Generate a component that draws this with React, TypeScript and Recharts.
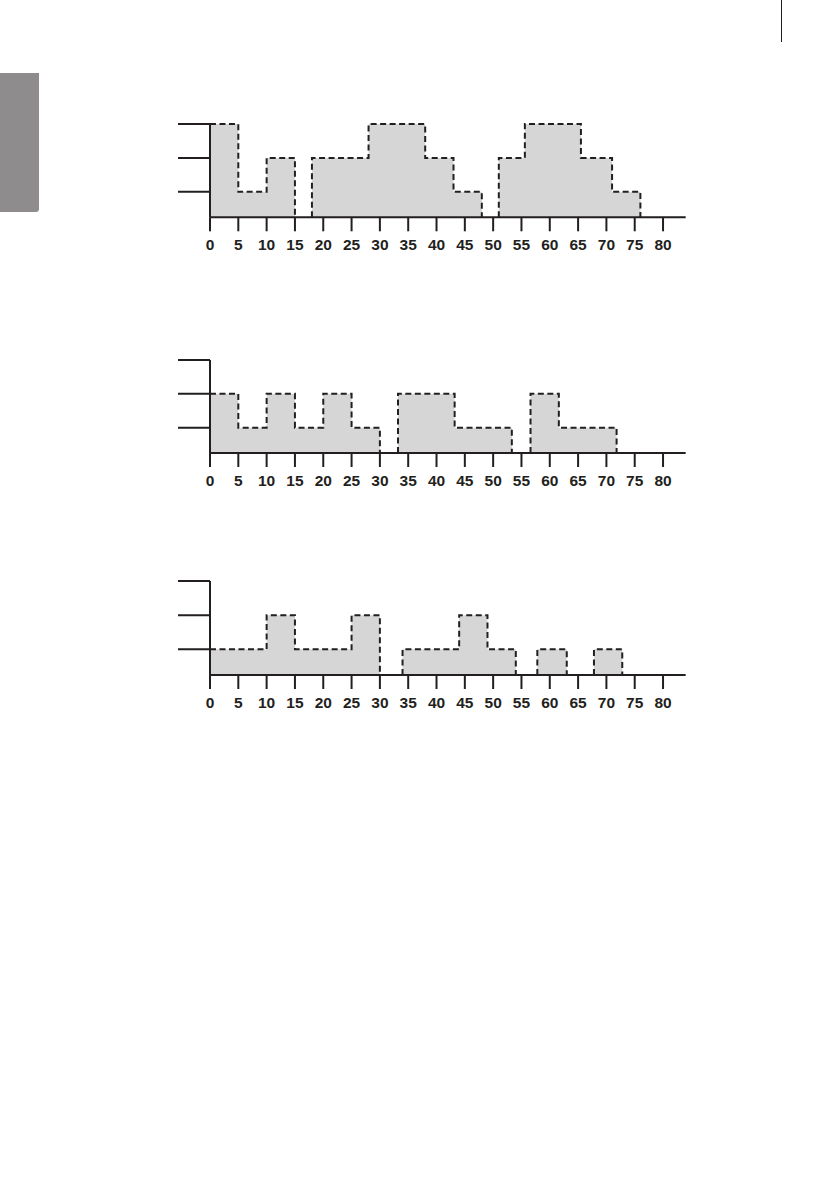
import React from 'react';
import { AreaChart, Area, XAxis, YAxis } from 'recharts';

const INK = '#231f20';
const FILL = '#d6d6d6';

// x axis ticks (every 5 up to 80)
const X_TICKS = [0, 5, 10, 15, 20, 25, 30, 35, 40, 45, 50, 55, 60, 65, 70, 75, 80];
const LEVEL_TICKS = [1, 2, 3];
const FLOOR = 0.25; // value the x axis sits on
const TOP = 3;
const X_MAX = 84;

// each segment: edges (n+1 values) and levels (n values)
const chart1Edges = [
  [0, 5, 10, 15],
  [18, 28, 38, 43, 48],
  [51, 55.6, 65.5, 71, 76],
];
const chart1Levels = [
  [3, 1, 2],
  [2, 3, 2, 1],
  [2, 3, 2, 1],
];

const chart2Edges = [
  [0, 5, 10, 15, 20, 25, 30],
  [33.2, 43.2, 53.3],
  [56.6, 61.6, 71.8],
];
const chart2Levels = [
  [2, 1, 2, 1, 2, 1],
  [2, 1],
  [2, 1],
];

const chart3Edges = [
  [0, 10, 15, 25, 30],
  [34, 44, 49, 54],
  [57.8, 63],
  [67.8, 72.8],
];
const chart3Levels = [
  [1, 2, 1, 2],
  [1, 2, 1],
  [1],
  [1],
];

type Row = { x: number; y: number | null };

function buildRows(edges: number[][], levels: number[][]): Row[] {
  const rows: Row[] = [];
  edges.forEach((seg, si) => {
    const lv = levels[si];
    if (si > 0) {
      // break between segments
      rows.push({ x: (edges[si - 1][edges[si - 1].length - 1] + seg[0]) / 2, y: null });
    }
    if (seg[0] > 0) rows.push({ x: seg[0], y: FLOOR });
    lv.forEach((v, i) => rows.push({ x: seg[i], y: v }));
    const end = seg[seg.length - 1];
    rows.push({ x: end, y: lv[lv.length - 1] });
    rows.push({ x: end, y: FLOOR });
  });
  return rows;
}

const PLOT_LEFT = 210;
const PLOT_RIGHT = 685.7;
const Y_AXIS_W = 50;
const CHART_LEFT = PLOT_LEFT - Y_AXIS_W;
const CHART_W = PLOT_RIGHT - CHART_LEFT + 10;
const X_AXIS_H = 40;

function XTick(props: any) {
  const { x, y, payload } = props;
  return (
    <text
      x={x}
      y={y + 11}
      textAnchor="middle"
      fill={INK}
      style={{ fontFamily: '"Liberation Sans", Arial, sans-serif', fontSize: 15.5, fontWeight: 700 }}
    >
      {payload.value}
    </text>
  );
}

function StepChart({ rows, plotTop, plotHeight }: { rows: Row[]; plotTop: number; plotHeight: number }) {
  return (
    <div style={{ position: 'absolute', left: CHART_LEFT, top: plotTop - 10 }}>
      <AreaChart
        width={CHART_W}
        height={10 + plotHeight + X_AXIS_H}
        data={rows}
        margin={{ top: 10, right: 10, bottom: 0, left: 0 }}
      >
        <Area
          type="stepAfter"
          dataKey="y"
          stroke={INK}
          strokeWidth={2}
          strokeDasharray="6 3.5"
          fill={FILL}
          fillOpacity={1}
          connectNulls={false}
          dot={false}
          activeDot={false}
          isAnimationActive={false}
        />
        <XAxis
          dataKey="x"
          type="number"
          domain={[0, X_MAX]}
          ticks={X_TICKS}
          interval={0}
          height={X_AXIS_H}
          axisLine={{ stroke: INK, strokeWidth: 2 }}
          tickLine={{ stroke: INK, strokeWidth: 2 }}
          tickSize={14}
          tickMargin={8}
          tick={<XTick />}
        />
        <YAxis
          type="number"
          domain={[FLOOR, TOP]}
          ticks={LEVEL_TICKS}
          interval={0}
          width={Y_AXIS_W}
          axisLine={{ stroke: INK, strokeWidth: 2 }}
          tickLine={{ stroke: INK, strokeWidth: 2 }}
          tickSize={32}
          tick={() => <g />}
        />
      </AreaChart>
    </div>
  );
}

export default function App() {
  return (
    <div style={{ position: 'absolute', left: 0, top: 0, width: 839, height: 1191, background: '#fff' }}>
      <div
        style={{
          position: 'absolute',
          left: 0,
          top: 73,
          width: 39,
          height: 139,
          background: '#8e8c8c',
          borderBottomRightRadius: 3,
        }}
      />
      <div style={{ position: 'absolute', left: 781, top: 0, width: 1, height: 42, background: INK }} />
      <StepChart rows={buildRows(chart1Edges, chart1Levels)} plotTop={124} plotHeight={93.3} />
      <StepChart rows={buildRows(chart2Edges, chart2Levels)} plotTop={359.5} plotHeight={93} />
      <StepChart rows={buildRows(chart3Edges, chart3Levels)} plotTop={580.5} plotHeight={94} />
    </div>
  );
}
